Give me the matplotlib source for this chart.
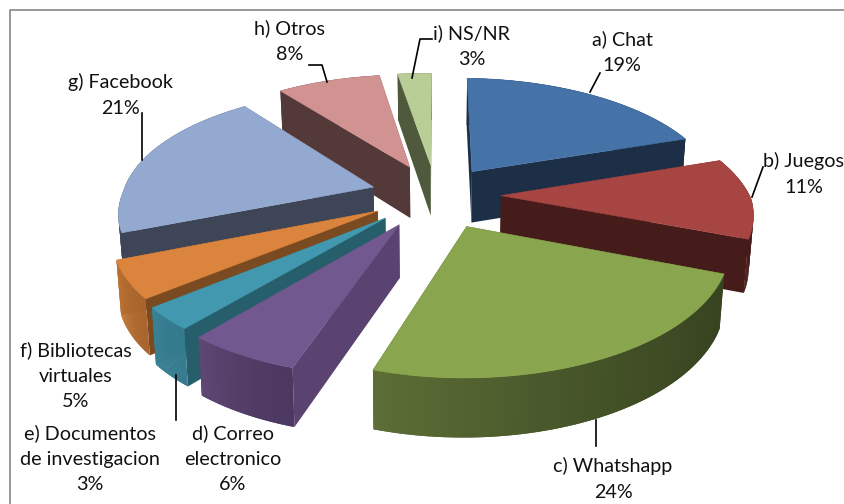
import numpy as np
import matplotlib
matplotlib.use("Agg")
import matplotlib.pyplot as plt
from matplotlib.colors import to_rgb

plt.rcParams["font.family"] = ["Lato", "DejaVu Sans"]

categories = ["a) Chat", "b) Juegos", "c) Whatshapp", "d) Correo\nelectronico",
              "e) Documentos\nde investigacion", "f) Bibliotecas\nvirtuales",
              "g) Facebook", "h) Otros", "i) NS/NR"]
values = [19.4, 11, 24, 6, 3, 5, 21, 8, 2.6]

top_colors = ["#4572A7", "#A64542", "#89A54E", "#71588F", "#4198AF", "#DB843D", "#93A9CF", "#D19392", "#B9CD96"]
side_colors = ["#1D2F46", "#451C1A", "#384420", "#5A4370", "#265E6B", "#7A4A20", "#3D4557", "#533938", "#4E5A3B"]
rim_start = ["#1D2F46", "#451C1A", "#384420", "#4C3860", "#347B8E", "#A8652C", "#3D4557", "#533938", "#4E5A3B"]
rim_end = ["#1D2F46", "#451C1A", "#5C6E36", "#5E4874", "#3C8296", "#C47735", "#3D4557", "#533938", "#4E5A3B"]
explode = [0.26, 0.26, 0.29, 0.28, 0.27, 0.26, 0.26, 0.27, 0.27]

# back to front
draw_order = [8, 7, 0, 1, 6, 5, 4, 3, 2]

# label text centres, pixels
label_pos = [(622, 52), (804, 174), (613, 479), (233, 459), (90, 459), (76, 376), (120, 95), (290, 41), (472, 46)]
leaders = [
    [(600, 73), (590, 92)],
    [(763, 167), (752, 197)],
    [(596, 420), (596, 446)],
    [(176, 375), (176, 420)],
    [(142.5, 113), (142.5, 160)],
    [(309, 65), (322, 65), (327, 82)],
    [(412, 78), (420, 39), (432, 39)],
]

CX, CY, RX, RY, PERSP, SHEAR, DEPTH, TILT = 436, 195, 250, 115.5, 0.162, 16, 52, 0.012


def project(wx, wy, down=False):
    s = 1 / (1 + PERSP * wy)
    x = wx * RX * s
    y = -wy * RY * s + TILT * x
    if down:
        x = x * 0.985
        y = y + DEPTH * s ** 0.6
    return CX + x + SHEAR * np.minimum(wy, 0), CY + y


def mix(a, b, t):
    a, b = np.array(to_rgb(a)), np.array(to_rgb(b))
    return a + (b - a) * t


fig = plt.figure(figsize=(8.45, 5.04), dpi=100)
ax = fig.add_axes([0, 0, 1, 1])
ax.set_xlim(0, 845)
ax.set_ylim(504, 0)
ax.axis("off")

# chart border
ax.plot([10, 10, 845], [504, 9.5, 9.5], color="#868686", lw=1.2)

edges = np.cumsum([0] + values) / sum(values) * 2 * np.pi

for i in draw_order:
    t0, t1 = edges[i], edges[i + 1]
    mid = (t0 + t1) / 2
    ox, oy = explode[i] * np.sin(mid), explode[i] * np.cos(mid)
    th = np.linspace(t0, t1, 60)
    wx, wy = ox + np.sin(th), oy + np.cos(th)
    tx, ty = project(wx, wy)
    bx, by = project(wx, wy, True)
    ax0, ay0 = project(ox, oy)
    bx0, by0 = project(ox, oy, True)
    # radial walls
    ax.fill([ax0, tx[0], bx[0], bx0], [ay0, ty[0], by[0], by0], color=side_colors[i], lw=0)
    ax.fill([ax0, tx[-1], bx[-1], bx0], [ay0, ty[-1], by[-1], by0], color=side_colors[i], lw=0)
    # rim, shaded along the arc, each strip overlapping the next one
    for j in range(len(th) - 1):
        k = min(j + 2, len(th) - 1)
        c = mix(rim_start[i], rim_end[i], (j / (len(th) - 2)) ** 1.5)
        ax.fill([tx[j], tx[k], bx[k], bx[j]], [ty[j], ty[k], by[k], by[j]], color=c, lw=0)
    ax.fill(np.r_[ax0, tx], np.r_[ay0, ty], color=top_colors[i], lw=0.4)

for name, v, (x, y) in zip(categories, values, label_pos):
    ax.text(x, y, "%s\n%.0f%%" % (name, v), ha="center", va="center", fontsize=14.2,
            color="#111111", linespacing=1.6, clip_on=False)

for line in leaders:
    xs, ys = zip(*line)
    ax.plot(xs, ys, color="black", lw=1.2)

plt.savefig("out.png", dpi=100)
